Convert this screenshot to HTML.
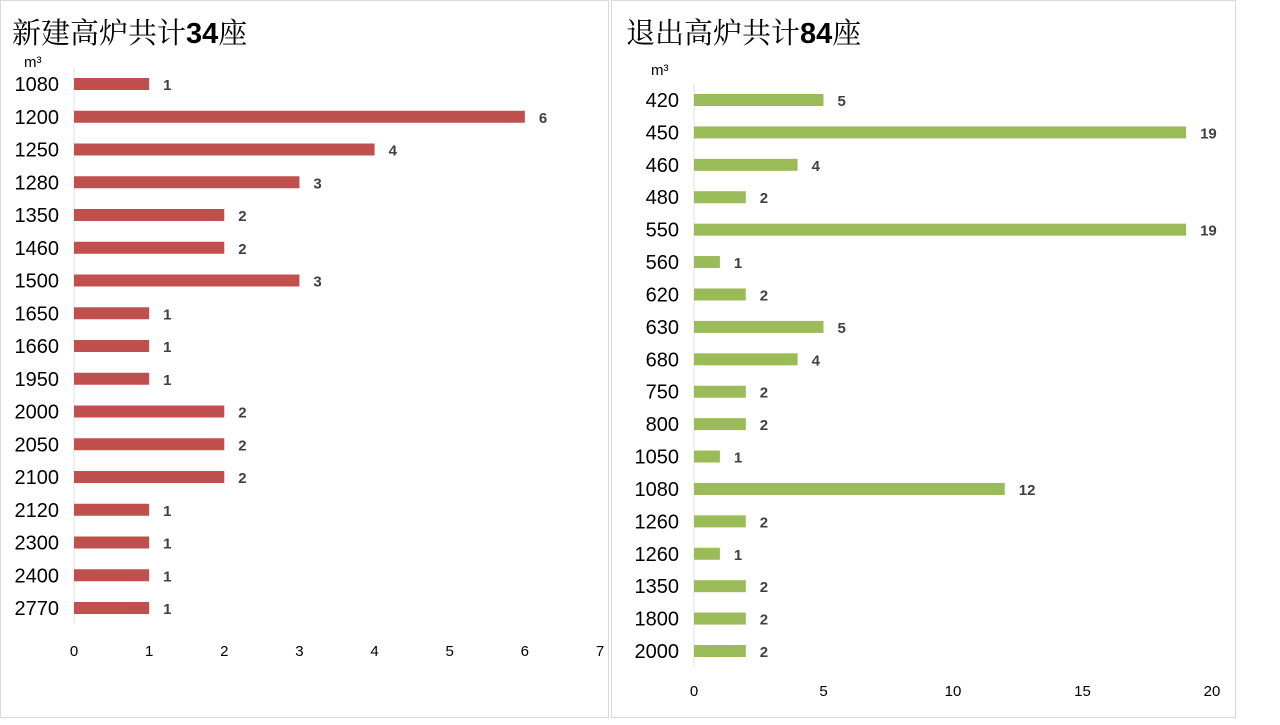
<!DOCTYPE html>
<html><head><meta charset="utf-8"><style>
body{margin:0;width:1280px;height:720px;background:#fff;overflow:hidden;font-family:"Liberation Sans","Noto Sans CJK SC",sans-serif}
</style></head><body>
<svg width="1280" height="720">
<rect x="0.5" y="0.5" width="608" height="717" fill="#fff" stroke="#d9d9d9"/>
<rect x="611.5" y="0.5" width="624" height="717" fill="#fff" stroke="#d9d9d9"/>
<text x="12" y="43" font-size="29" fill="#000" font-family="'Noto Serif CJK SC','Noto Sans CJK SC',serif">新建高炉共计<tspan font-weight="bold" font-family="Liberation Sans">34</tspan>座</text>
<text x="626" y="43" font-size="29" fill="#000" font-family="'Noto Serif CJK SC','Noto Sans CJK SC',serif">退出高炉共计<tspan font-weight="bold" font-family="Liberation Sans">84</tspan>座</text>
<text x="24" y="67" font-size="15">m³</text>
<text x="651" y="75" font-size="15">m³</text>
<g id="left"></g><g id="right"></g>
</svg>
<script>
const leftCategories=["1080","1200","1250","1280","1350","1460","1500","1650","1660","1950","2000","2050","2100","2120","2300","2400","2770"];
const leftValues=[1,6,4,3,2,2,3,1,1,1,2,2,2,1,1,1,1];
const leftTicks=[0,1,2,3,4,5,6,7];
const rightCategories=["420","450","460","480","550","560","620","630","680","750","800","1050","1080","1260","1260","1350","1800","2000"];
const rightValues=[5,19,4,2,19,1,2,5,4,2,2,1,12,2,1,2,2,2];
const rightTicks=[0,5,10,15,20];
const NS="http://www.w3.org/2000/svg";
function mk(g,tag,a,txt){const e=document.createElementNS(NS,tag);for(const k in a)e.setAttribute(k,a[k]);if(txt!==undefined)e.textContent=txt;g.appendChild(e);return e;}
function draw(gid,cats,vals,ticks,o){
 const g=document.getElementById(gid);
 const max=ticks[ticks.length-1];
 const x=v=>o.x0+(o.x1-o.x0)*v/max;
 const y=i=>o.yFirst+(o.yLast-o.yFirst)*i/(cats.length-1);
 const ax=mk(g,'line',{x1:o.x0,x2:o.x0,y1:o.yFirst-16,y2:o.yLast+16,stroke:'#e0e0e0'});
 
 
 cats.forEach((c,i)=>{
  const t=mk(g,'text',{x:o.x0-15,y:y(i)+7,'font-size':20,'text-anchor':'end',fill:'#000'},c);
  
  
  const b=mk(g,'rect',{x:o.x0,y:y(i)-6,width:x(vals[i])-o.x0,height:12,fill:o.color});
  
  
  const l=mk(g,'text',{x:x(vals[i])+14,y:y(i)+6,'font-size':15,'font-weight':'bold',fill:'#404040'},vals[i]);
  
  
 });
 ticks.forEach(v=>{
  const t=mk(g,'text',{x:x(v),y:o.tickY,'font-size':15,'text-anchor':'middle',fill:'#000'},v);
  
  
 });
}
draw('left',leftCategories,leftValues,leftTicks,{x0:74,x1:600,yFirst:84,yLast:608,tickY:656,color:'#c0504d'});
draw('right',rightCategories,rightValues,rightTicks,{x0:694,x1:1212,yFirst:100,yLast:651,tickY:696,color:'#9bbb59'});
</script>
</body></html>
